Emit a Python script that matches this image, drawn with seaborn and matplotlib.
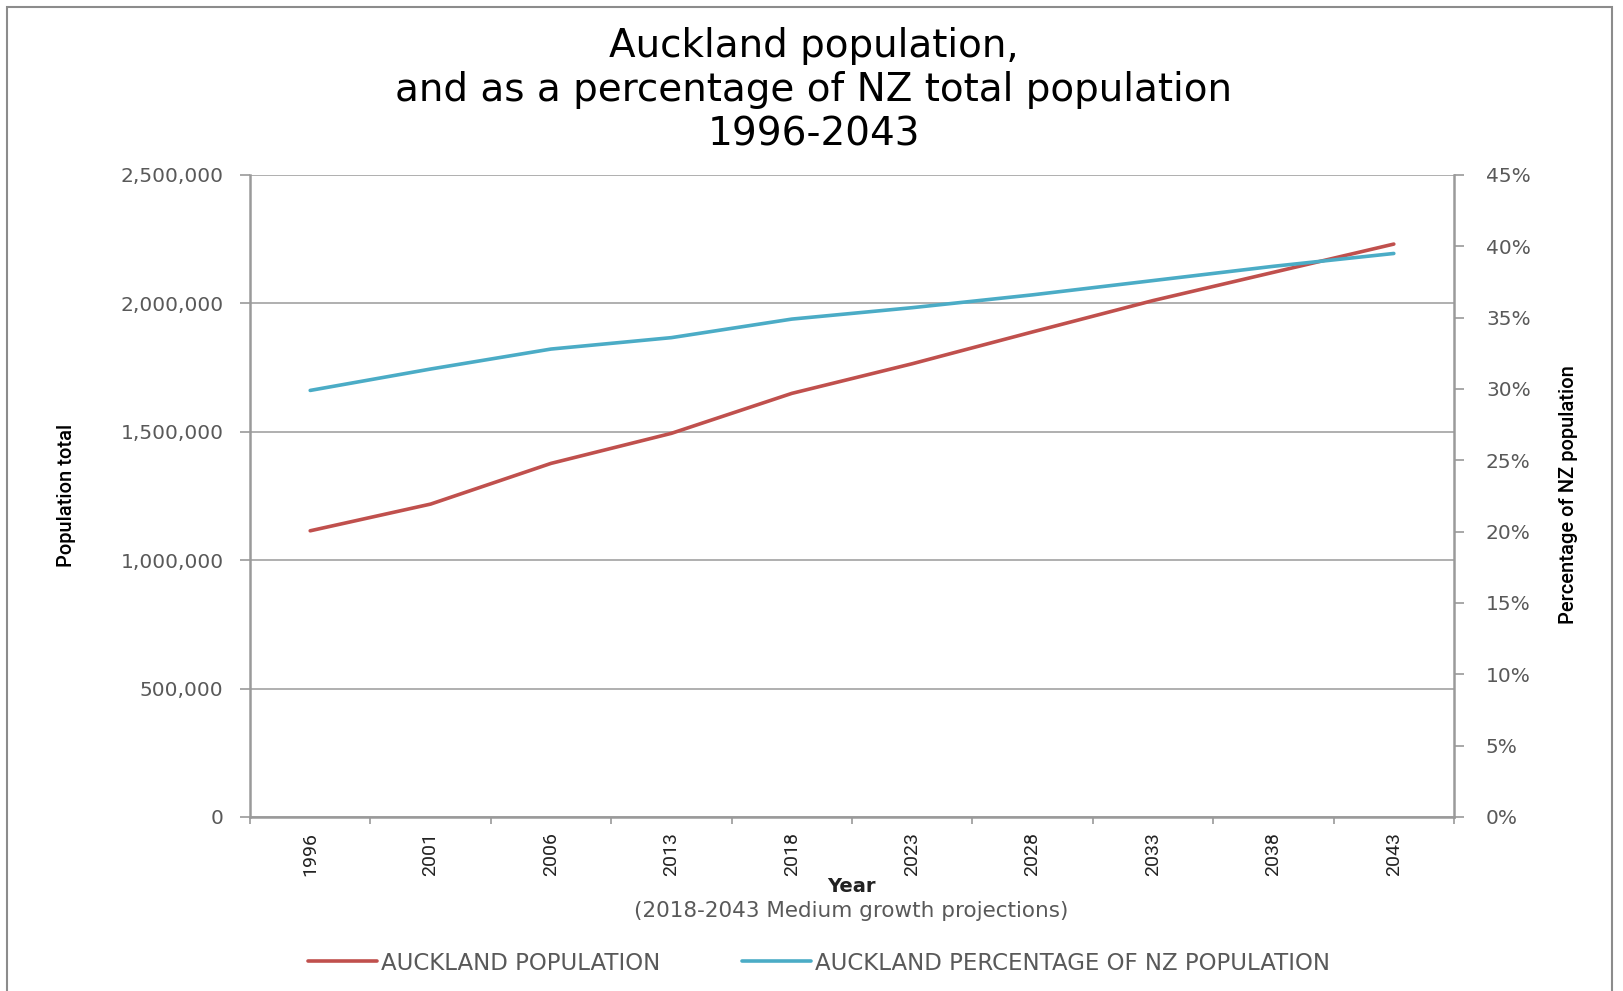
import numpy as np
import pandas as pd
import matplotlib
matplotlib.use('agg')
import matplotlib.pyplot as plt
import seaborn as sns
from matplotlib.lines import Line2D
from matplotlib.patches import Rectangle
from matplotlib.ticker import FuncFormatter, FixedLocator

years = ['1996', '2001', '2006', '2013', '2018', '2023', '2028', '2033', '2038', '2043']
population = [1114500, 1218500, 1377000, 1494000, 1649600, 1765000, 1889000, 2011000, 2121000, 2231000]
pct_nz = [29.9, 31.4, 32.8, 33.6, 34.9, 35.7, 36.6, 37.6, 38.6, 39.5]

RED = '#C0504D'
BLUE = '#4BACC6'
GREY = '#595959'
LINE_GREY = '#9a9a9a'

sns.set_style('white')
plt.rcParams['font.family'] = ['DejaVu Sans']
narrow = ['Roboto', 'DejaVu Sans']

df = pd.DataFrame({'pos': np.arange(len(years)), 'year': years,
                   'population': population, 'pct': pct_nz})

fig = plt.figure(figsize=(16.23, 9.91), dpi=100)
ax = fig.add_axes([250 / 1623, 1 - 817 / 991, (1454 - 250) / 1623, (817 - 175) / 991])
ax2 = ax.twinx()

sns.lineplot(data=df, x='pos', y='population', ax=ax, color=RED, linewidth=2.6)
sns.lineplot(data=df, x='pos', y='pct', ax=ax2, color=BLUE, linewidth=2.6)

ax.set_xlim(-0.5, len(years) - 0.5)
ax.set_ylim(0, 2500000)
ax2.set_ylim(0, 45)

# y axes
ax.yaxis.set_major_locator(FixedLocator(np.arange(0, 2500001, 500000)))
ax.yaxis.set_major_formatter(FuncFormatter(lambda v, p: f'{int(v):,}'))
ax2.yaxis.set_major_locator(FixedLocator(np.arange(0, 46, 5)))
ax2.yaxis.set_major_formatter(FuncFormatter(lambda v, p: f'{int(v)}%'))
ax.grid(axis='y', color=LINE_GREY, linewidth=1.1)
ax.grid(axis='x', visible=False)
ax2.grid(False)
ax.tick_params(axis='y', direction='out', length=7, width=1.2, color=LINE_GREY,
               labelcolor=GREY, labelsize=14.5, pad=12, left=True)
ax2.tick_params(axis='y', direction='out', length=7, width=1.2, color=LINE_GREY,
                labelcolor=GREY, labelsize=14.5, pad=16, right=True)

# x axis: labels at category centres, ticks between categories
ax.set_xticks(df['pos'])
ax.set_xticklabels(years, rotation=90, family=narrow, fontsize=14, color='#222222')
ax.set_xticks(np.arange(-0.5, len(years), 1), minor=True)
ax.tick_params(axis='x', which='major', length=0, pad=11)
ax.tick_params(axis='x', which='minor', direction='out', length=5, width=1.2,
               color=LINE_GREY, bottom=True)

for a in (ax, ax2):
    for s in a.spines.values():
        s.set_visible(False)
    a.set_xlabel('')
    a.set_ylabel('')
ax.spines['left'].set_visible(True)
ax.spines['bottom'].set_visible(True)
ax2.spines['right'].set_visible(True)
for s in (ax.spines['left'], ax.spines['bottom'], ax2.spines['right']):
    s.set_color(LINE_GREY)
    s.set_linewidth(1.8)

fig.text(67 / 1623, 1 - 495 / 991, 'Population total', rotation=90, ha='center',
         va='center', family=narrow, fontsize=14.5, fontweight='medium', color='black')
fig.text(1568 / 1623, 1 - 495 / 991, 'Percentage of NZ population', rotation=90,
         ha='center', va='center', family=narrow, fontsize=14.5, fontweight='medium',
         color='black')

fig.text(851 / 1623, 1 - 887 / 991, 'Year', ha='center', va='center',
         fontsize=14, fontweight='bold', color='#222222')
fig.text(851 / 1623, 1 - 911 / 991, '(2018-2043 Medium growth projections)',
         ha='center', va='center', fontsize=15.5, color=GREY)

fig.text(814 / 1623, 1 - 90 / 991,
         'Auckland population,\nand as a percentage of NZ total population\n1996-2043',
         ha='center', va='center', fontsize=28, color='black', linespacing=1.2)

handles = [Line2D([], [], color=RED, linewidth=2.6),
           Line2D([], [], color=BLUE, linewidth=2.6)]
fig.legend(handles, ['AUCKLAND POPULATION', 'AUCKLAND PERCENTAGE OF NZ POPULATION'],
           loc='center', bbox_to_anchor=(819 / 1623, 1 - 963 / 991), ncol=2,
           frameon=False, fontsize=16.5, labelcolor=GREY, handlelength=3.0,
           handletextpad=0.15, columnspacing=3.6)

# chart area border
fig.patches.append(Rectangle((7 / 1623, -0.05), (1612 - 7) / 1623, 1.05 - 7 / 991,
                             transform=fig.transFigure, fill=False,
                             edgecolor='#8c8c8c', linewidth=1.5))

fig.savefig('out.png', dpi=100)
